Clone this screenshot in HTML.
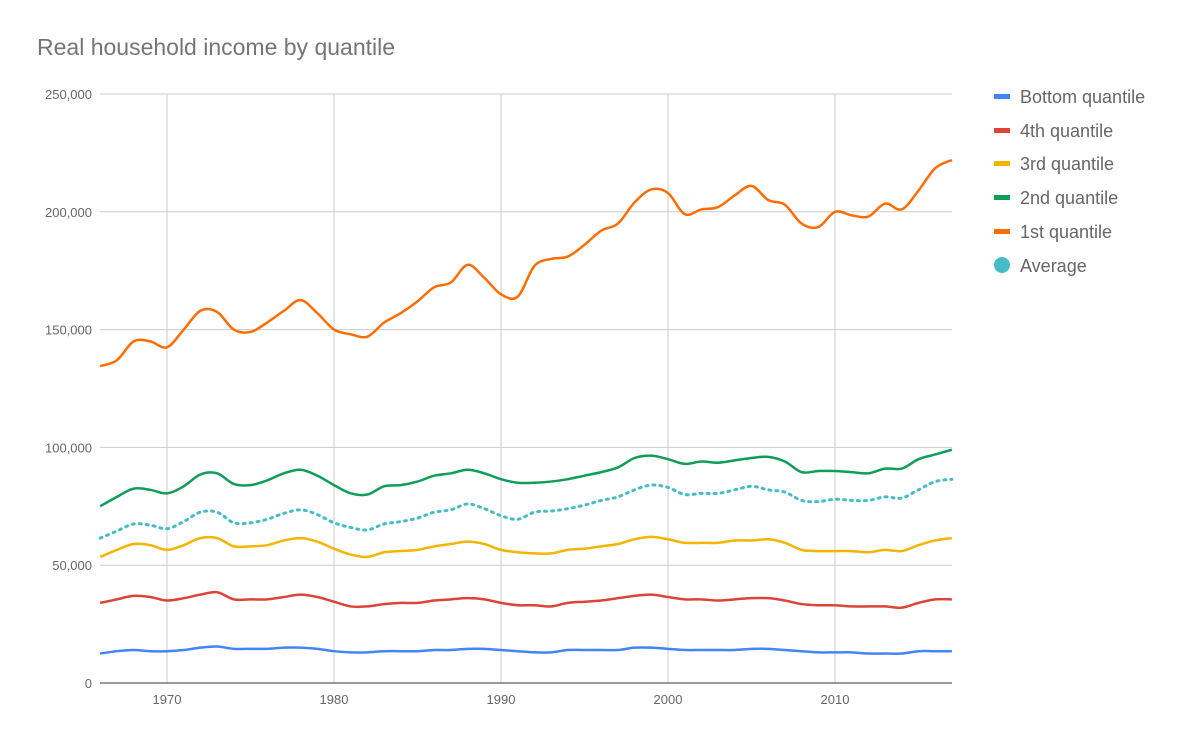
<!DOCTYPE html>
<html><head><meta charset="utf-8"><style>
body{margin:0;background:#fff;font-family:"Liberation Sans",Arial,sans-serif}
</style></head><body>
<svg id="s" width="1200" height="741" xmlns="http://www.w3.org/2000/svg" font-family="Liberation Sans, Arial, sans-serif">
<text x="37" y="55" font-size="23" fill="#757575">Real household income by quantile</text>
<g id="grid"></g>
<g id="lines"></g>
<g font-size="18" fill="#666">
<rect x="994" y="94" width="16" height="5" fill="#4285f4"/><text x="1020" y="103">Bottom quantile</text>
<rect x="994" y="128" width="16" height="5" fill="#db4437"/><text x="1020" y="137">4th quantile</text>
<rect x="994" y="161" width="16" height="5" fill="#f4b400"/><text x="1020" y="170">3rd quantile</text>
<rect x="994" y="195" width="16" height="5" fill="#0f9d58"/><text x="1020" y="204">2nd quantile</text>
<rect x="994" y="229" width="16" height="5" fill="#ff6d00"/><text x="1020" y="238">1st quantile</text>
<circle cx="1002" cy="265" r="8" fill="#46bdc6"/><text x="1020" y="272">Average</text>
</g>
</svg>
<script>
const NS="http://www.w3.org/2000/svg";
const X=y=>100.2+(y-1966)*16.7, Y=v=>683-v*2.356;
let g=document.getElementById('grid'),h='';
for(let yr=1970;yr<=2010;yr+=10){h+=`<line x1="${X(yr)}" y1="94" x2="${X(yr)}" y2="683" stroke="#ccc"/><text x="${X(yr)}" y="704" font-size="13" fill="#666" text-anchor="middle">${yr}</text>`;}
for(let v=0;v<=250;v+=50){h+=`<line x1="100" y1="${Y(v)}" x2="952" y2="${Y(v)}" stroke="${v==0?'#333':'#ccc'}"/><text x="92" y="${Y(v)+5}" font-size="13" fill="#666" text-anchor="end">${v==0?'0':v+',000'}</text>`;}
g.innerHTML=h;
const D={
b:"12.5 13.5 14 13.5 13.5 14 15 15.5 14.5 14.5 14.5 15 15 14.5 13.5 13 13 13.5 13.5 13.5 14 14 14.5 14.5 14 13.5 13 13 14 14 14 14 15 15 14.5 14 14 14 14 14.5 14.5 14 13.5 13 13 13 12.5 12.5 12.5 13.5 13.5 13.5",
f:"34 35.5 37 36.5 35 36 37.5 38.5 35.5 35.5 35.5 36.5 37.5 36.5 34.5 32.5 32.5 33.5 34 34 35 35.5 36 35.5 34 33 33 32.5 34 34.5 35 36 37 37.5 36.5 35.5 35.5 35 35.5 36 36 35 33.5 33 33 32.5 32.5 32.5 32 34 35.5 35.5",
t:"53.5 56.5 59 58.5 56.5 58.5 61.5 61.5 58 58 58.5 60.5 61.5 60 57 54.5 53.5 55.5 56 56.5 58 59 60 59 56.5 55.5 55 55 56.5 57 58 59 61 62 61 59.5 59.5 59.5 60.5 60.5 61 59.5 56.5 56 56 56 55.5 56.5 56 58.5 60.5 61.5",
s:"75 79 82.5 82 80.5 83.5 88.5 89 84.5 84 86 89 90.5 88 84 80.5 80 83.5 84 85.5 88 89 90.5 89 86.5 85 85 85.5 86.5 88 89.5 91.5 95.5 96.5 95 93 94 93.5 94.5 95.5 96 94 89.5 90 90 89.5 89 91 91 95 97 99",
a:"61.5 64.5 67.5 67 65.5 68.5 72.5 72.5 68 68 69.5 72 73.5 71.5 68 66 65 67.5 68.5 70 72.5 73.5 76 74 71 69.5 72.5 73 74 75.5 77.5 79 82 84 83 80 80.5 80.5 82 83.5 82 81 77.5 77 78 77.5 77.5 79 78.5 82 85.5 86.5",
o:"134.5 137 145 145 142.5 150 158 157.5 150 149 153 158 162.5 157 150 148 147 153 157 162 168 170 177.5 172 165 164 177 180 181 186 192 195 204 209.5 208 199 201 202 207 211 205 203 195 193.5 200 198.5 198 203.5 201 209 218.5 222"};
function path(s){const v=s.split(' ').map(Number);const p=v.map((q,i)=>[X(1966+i),Y(q)]);
let d=`M${p[0][0]},${p[0][1]}`;for(let i=0;i<p.length-1;i++){const p0=p[i-1]||p[i],p1=p[i],p2=p[i+1],p3=p[i+2]||p2;
d+=` C${p1[0]+(p2[0]-p0[0])/6},${p1[1]+(p2[1]-p0[1])/6} ${p2[0]-(p3[0]-p1[0])/6},${p2[1]-(p3[1]-p1[1])/6} ${p2[0]},${p2[1]}`;}return d;}
const C={b:"#4285f4",f:"#db4437",t:"#f4b400",s:"#0f9d58",a:"#46bdc6",o:"#ff6d00"};
let l='';for(const k of ['b','f','t','a','s','o']){l+=`<path d="${path(D[k])}" fill="none" stroke="${C[k]}" stroke-width="${k=='a'?3:2.5}" ${k=='a'?'stroke-dasharray="2,5" stroke-linecap="round"':''}/>`;}
document.getElementById('lines').innerHTML=l;
</script>
</body></html>
